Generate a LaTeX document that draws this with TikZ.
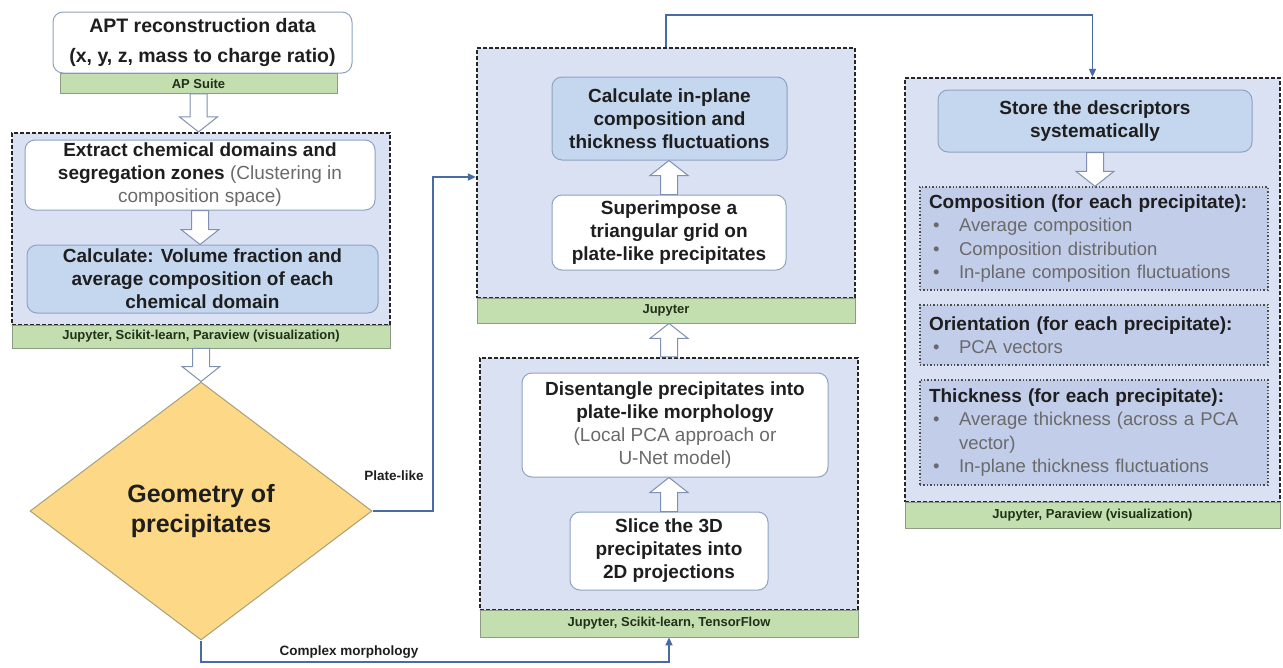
\documentclass[tikz,border=0pt]{standalone}
\usepackage{fontspec}
\setmainfont{Liberation Sans}
\usetikzlibrary{shapes.geometric,arrows.meta,calc}
\definecolor{contfill}{HTML}{D9E1F3}
\definecolor{bluebox}{HTML}{C4D7EF}
\definecolor{boxline}{HTML}{8FA3C2}
\definecolor{greenbar}{HTML}{C3DFAF}
\definecolor{greenline}{HTML}{8E9C86}
\definecolor{greentxt}{HTML}{22301A}
\definecolor{diafill}{HTML}{FDD987}
\definecolor{dialine}{HTML}{A8A078}
\definecolor{dotfill}{HTML}{C2CDEA}
\definecolor{conncol}{HTML}{4A6AA5}
\definecolor{maintxt}{HTML}{1E1E1E}
\definecolor{graytxt}{HTML}{6A6A6A}
\definecolor{arrline}{HTML}{7F90B2}
\newcommand\hdown[2]{\draw[hollow] let \p1=(#1), \p2=(#2) in
  (\x1-8.5pt,\y1) -- (\x1+8.5pt,\y1) -- (\x1+8.5pt,\y2+15pt) -- (\x1+19pt,\y2+15pt)
  -- (\x1,\y2) -- (\x1-19pt,\y2+15pt) -- (\x1-8.5pt,\y2+15pt) -- cycle;}
\newcommand\hup[2]{\draw[hollow] let \p1=(#1), \p2=(#2) in
  (\x1-8.5pt,\y1) -- (\x1+8.5pt,\y1) -- (\x1+8.5pt,\y2-15pt) -- (\x1+19pt,\y2-15pt)
  -- (\x1,\y2) -- (\x1-19pt,\y2-15pt) -- (\x1-8.5pt,\y2-15pt) -- cycle;}
\newcommand\bul[1]{\makebox[30pt][l]{\hspace{4pt}\textbullet}#1}
\begin{document}
\begin{tikzpicture}[x=1pt,y=-1pt,
  every node/.style={text=maintxt},
  cont/.style={draw=black!85, fill=contfill, line width=2.2pt, dash pattern=on 4pt off 2pt, inner sep=0pt},
  bar/.style={draw=greenline, fill=greenbar, line width=0.8pt, inner sep=0pt, font=\bfseries\fontsize{13}{15}\selectfont, text=greentxt},
  wbox/.style={draw=boxline, fill=white, rounded corners=10pt, line width=1pt, align=center, inner sep=2pt, font=\bfseries\fontsize{19}{23}\selectfont},
  bbox/.style={wbox, fill=bluebox},
  dotbox/.style={draw=black!70, fill=dotfill, line width=1.4pt, dotted, inner xsep=9pt, inner ysep=0pt, text width=330pt, align=left, font=\fontsize{18.5}{23.5}\selectfont},
  conn/.style={draw=conncol, line width=1.6pt, -{Triangle[length=8pt,width=7pt]}},
  hollow/.style={draw=arrline, fill=white, line width=1pt},
  lbl/.style={font=\bfseries\fontsize{13.5}{15}\selectfont}
]
\useasboundingbox (0,0) rectangle (1283,667);

% ---- left column
\node[wbox, minimum width=299pt, minimum height=61pt, font=\bfseries\fontsize{19.5}{30}\selectfont] (apt) at (202.5,42.5)
  {APT reconstruction data\\(x, y, z, mass to charge ratio)};
\node[bar, minimum width=277pt, minimum height=20pt] (apsuite) at (198.5,83.5) {AP Suite};

\node[cont, minimum width=378pt, minimum height=192pt] (c0) at (201,229) {};
\node[bar, minimum width=378pt, minimum height=23pt] (bar0) at (201,336.5) {Jupyter, Scikit-learn, Paraview (visualization)};
\node[wbox, minimum width=350pt, minimum height=70pt] (extract) at (200,175)
  {Extract chemical domains and\\segregation zones {\mdseries\color{graytxt}(Clustering in}\\{\mdseries\color{graytxt}composition space)}};
\node[bbox, minimum width=351pt, minimum height=68pt] (calcvol) at (202.5,279)
  {Calculate: Volume fraction and\\average composition of each\\chemical domain};

\node[diamond, draw=dialine, fill=diafill, line width=1pt, minimum width=342pt, minimum height=258pt, inner sep=0pt, aspect=1.33, align=center, font=\bfseries\fontsize{25}{30}\selectfont] (geo) at (201,511)
  {Geometry of\\precipitates};

% ---- middle top
\node[cont, minimum width=378pt, minimum height=250pt] (c1) at (666,173) {};
\node[bar, minimum width=378pt, minimum height=25pt] (bar1) at (666,310.5) {Jupyter};
\node[bbox, minimum width=235pt, minimum height=83pt] (inplane) at (669.5,118.5)
  {Calculate in-plane\\composition and\\thickness fluctuations};
\node[wbox, minimum width=234pt, minimum height=75pt] (superimp) at (669,232.5)
  {Superimpose a\\triangular grid on\\plate-like precipitates};

% ---- middle bottom
\node[cont, minimum width=378pt, minimum height=252pt] (c2) at (669,484) {};
\node[bar, minimum width=378pt, minimum height=27pt] (bar2) at (669,623.5) {Jupyter, Scikit-learn, TensorFlow};
\node[wbox, minimum width=306pt, minimum height=104pt] (disent) at (675,425)
  {Disentangle precipitates into\\plate-like morphology\\{\mdseries\color{graytxt}(Local PCA approach or}\\{\mdseries\color{graytxt}U-Net model)}};
\node[wbox, minimum width=198pt, minimum height=78pt] (slice) at (669,551)
  {Slice the 3D\\precipitates into\\2D projections};

% ---- right column
\node[cont, minimum width=375pt, minimum height=424pt] (c3) at (1092.5,290) {};
\node[bar, minimum width=375pt, minimum height=26pt] (bar3) at (1092.5,515) {Jupyter, Paraview (visualization)};
\node[bbox, minimum width=314pt, minimum height=62pt] (store) at (1095,121)
  {Store the descriptors\\systematically};
\node[dotbox, minimum height=103pt] (comp) at (1094,238.5)
  {{\bfseries\fontsize{19}{23.5}\selectfont Composition (for each precipitate):}\\
   {\color{graytxt}\bul{Average composition}}\\
   {\color{graytxt}\bul{Composition distribution}}\\
   {\color{graytxt}\bul{In-plane composition fluctuations}}};
\node[dotbox, minimum height=60pt] (orient) at (1094,335)
  {{\bfseries\fontsize{19}{23.5}\selectfont Orientation (for each precipitate):}\\
   {\color{graytxt}\bul{PCA vectors}}};
\node[dotbox, minimum height=105pt] (thick) at (1094,432.5)
  {{\bfseries\fontsize{19}{23.5}\selectfont Thickness (for each precipitate):}\\
   {\color{graytxt}\bul{Average thickness (across a PCA}}\\
   {\color{graytxt}\hspace*{30pt}vector)}\\
   {\color{graytxt}\bul{In-plane thickness fluctuations}}};

% ---- hollow arrows
\hdown{apsuite.south}{c0.north}
\hdown{extract.south}{calcvol.north}
\hdown{bar0.south}{geo.north}
\hup{superimp.north}{inplane.south}
\hup{c2.north}{bar1.south}
\hup{slice.north}{disent.south}
\hdown{store.south}{comp.north}

% ---- connectors
\coordinate (pl) at (433,177);
\coordinate (cx) at (669,662);
\coordinate (tp) at (0,15);
\draw[conn] (geo.east) -| (pl) -- (pl -| c1.west);
\draw[conn] (geo.south) |- (cx) -- (bar2.south);
\draw[conn] (c1.north) -- (c1.north |- tp) -| (c3.north);

\node[lbl] (plbl) at (394,476) {Plate-like};
\node[lbl] (clbl) at (349,652) {Complex morphology};
\end{tikzpicture}
\end{document}
